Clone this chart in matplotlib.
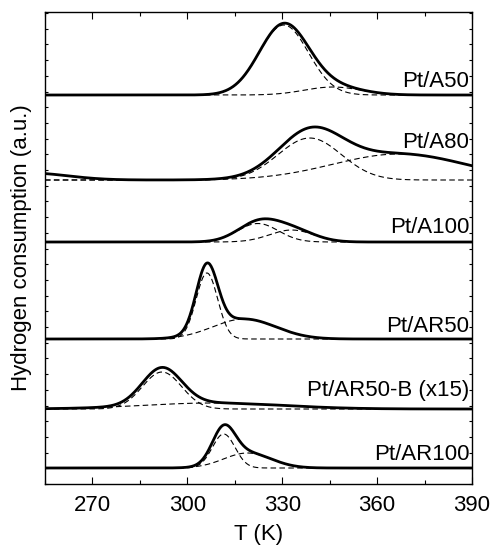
import numpy as np
import matplotlib
matplotlib.use('Agg')
import matplotlib.pyplot as plt
from matplotlib.ticker import MultipleLocator, NullFormatter

plt.rcParams['font.family'] = ['Liberation Sans', 'DejaVu Sans']

# samples, top to bottom; offsets are the baseline of each trace (a.u.)
samples = ['Pt/A50', 'Pt/A80', 'Pt/A100', 'Pt/AR50', 'Pt/AR50-B (x15)', 'Pt/AR100']
offsets = [389, 304, 242, 145, 75, 16]

# fitted peak components: (centre K, height a.u., sigma K)
components = [
    [(330.5, 70, 7.8), (346, 8, 9)],
    [(338.7, 42, 10), (367, 26, 21)],
    [(322.3, 18.5, 6.5), (333, 12, 7)],
    [(306.2, 66, 3.4), (318, 20, 10)],
    [(292, 37, 6.2), (308, 6, 22)],
    [(311.5, 34, 3.6), (319, 15, 7.5)],
]
# extra signal in the measured trace that no fitted peak covers
residual = [[], [(250, 7, 12)], [], [], [], []]

label_dy = [8, 32, 9, 7, 13, 8]

T = np.linspace(255, 390, 700)


def gauss(t, c, h, s):
    return h * np.exp(-(t - c) ** 2 / (2 * s ** 2))


fig = plt.figure(figsize=(4.91, 5.51), dpi=100)
ax = fig.add_axes([0.0916, 0.1216, 0.8697, 0.8566])

for name, off, comps, extra, dy in zip(samples, offsets, components, residual, label_dy):
    total = np.zeros_like(T)
    for c, h, s in comps:
        part = gauss(T, c, h, s)
        total += part
        ax.plot(T, off + part, color='k', lw=0.8, dashes=(5, 3))
    for c, h, s in extra:
        total += gauss(T, c, h, s)
    ax.plot(T, off + total, color='k', lw=2.0, solid_capstyle='round')
    ax.text(389.2, off + dy, name, ha='right', va='baseline', fontsize=16)

ax.set_xlim(255, 390)
ax.set_ylim(0, 472)
ax.set_xticks([270, 300, 330, 360, 390])
ax.xaxis.set_minor_locator(MultipleLocator(15))
ax.yaxis.set_major_locator(MultipleLocator(15.7))
ax.yaxis.set_major_formatter(NullFormatter())
ax.tick_params(which='both', direction='in', top=True, right=True, width=0.8)
ax.tick_params(axis='x', which='major', length=5, labelsize=16, pad=8)
ax.tick_params(axis='x', which='minor', length=3)
ax.tick_params(axis='y', which='major', length=2.5)
for sp in ax.spines.values():
    sp.set_linewidth(1.0)

ax.set_xlabel('T (K)', fontsize=16, labelpad=6)
ax.set_ylabel('Hydrogen consumption (a.u.)', fontsize=16, labelpad=6)

fig.savefig('out.png', dpi=100)
